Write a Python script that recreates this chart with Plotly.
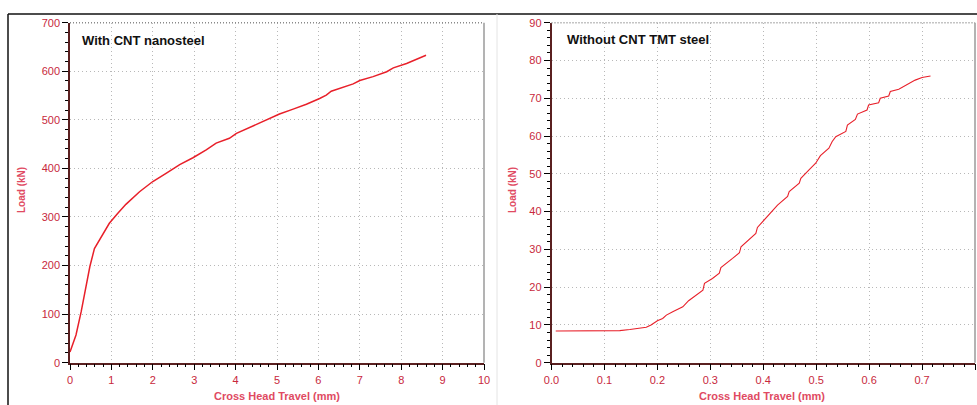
import plotly.graph_objects as go

# Left panel: With CNT nanosteel
cnt_travel = [0.0, 0.145, 0.27, 0.39, 0.48, 0.59, 0.75, 0.95, 1.15, 1.35, 1.68, 2.0, 2.32, 2.65,
              2.97, 3.29, 3.53, 3.85, 4.02, 4.42, 4.74, 5.06, 5.39, 5.71, 6.03, 6.19, 6.31, 6.6,
              6.84, 7.0, 7.32, 7.65, 7.81, 8.13, 8.37, 8.6]
cnt_load = [22, 57, 105, 156, 198, 235, 259, 287, 307, 326, 352, 373, 390, 408,
            422, 438, 452, 462, 472, 487, 500, 512, 522, 532, 544, 551, 559, 567,
            574, 581, 589, 599, 607, 616, 625, 633]

# Right panel: Without CNT TMT steel
tmt_travel = [0.008, 0.104, 0.129, 0.148, 0.16, 0.179, 0.188, 0.2, 0.21, 0.217, 0.229, 0.248,
              0.259, 0.273, 0.286, 0.289, 0.304, 0.317, 0.32, 0.342, 0.355, 0.358, 0.386,
              0.389, 0.417, 0.427, 0.446, 0.449, 0.468, 0.471, 0.486, 0.499, 0.508, 0.524,
              0.53, 0.537, 0.556, 0.559, 0.574, 0.578, 0.596, 0.599, 0.618, 0.621, 0.637,
              0.64, 0.656, 0.669, 0.687, 0.7, 0.716]
tmt_load = [8.4, 8.4, 8.5, 8.8, 9.1, 9.4, 10.0, 11.1, 11.7, 12.6, 13.5, 14.8,
            16.4, 17.9, 19.2, 21.0, 22.3, 23.7, 25.2, 27.6, 29.1, 30.7, 34.2,
            35.8, 40.0, 41.7, 44.0, 45.3, 47.5, 48.8, 51.0, 52.8, 54.8, 56.8,
            58.5, 59.8, 61.2, 62.9, 64.4, 65.8, 66.9, 68.2, 68.8, 70.0, 70.6,
            71.8, 72.4, 73.5, 74.8, 75.5, 75.9]

left_x_ticks = list(range(0, 11))
left_y_ticks = list(range(0, 701, 100))
right_x_ticks = [0.0, 0.1, 0.2, 0.3, 0.4, 0.5, 0.6, 0.7, 0.8]
right_y_ticks = list(range(0, 91, 10))

LABEL_RED = "#c8283c"
TITLE_RED = "#e04a62"
CURVE = "#e8202a"
W, H = 977, 405

fig = go.Figure()
fig.add_trace(go.Scatter(x=cnt_travel, y=cnt_load, mode="lines",
                         line=dict(color=CURVE, width=1.5), xaxis="x", yaxis="y",
                         showlegend=False))
fig.add_trace(go.Scatter(x=tmt_travel, y=tmt_load, mode="lines",
                         line=dict(color=CURVE, width=1.1), xaxis="x2", yaxis="y2",
                         showlegend=False))

ydom = [1 - 362.7 / H, 1 - 22.7 / H]
xdom1 = [70 / W, 484 / W]
xdom2 = [551.5 / W, 975 / W]

common = dict(showline=True, linecolor="#5a2020", linewidth=1.5, ticks="outside",
              tickcolor="#000", ticklen=6, tickwidth=1,
              tickfont=dict(family="Liberation Sans, Arial", size=11, color=LABEL_RED),
              showgrid=True, gridcolor="#b8b8b8", griddash="1px,3px", gridwidth=1,
              zeroline=False, mirror=False, automargin=False)

fig.update_layout(
    width=W, height=H, margin=dict(l=0, r=0, t=0, b=0),
    paper_bgcolor="white", plot_bgcolor="white", template="none",
    xaxis=dict(domain=xdom1, range=[0, 10], tickvals=left_x_ticks, anchor="y",
               minor=dict(dtick=0.2, ticks="outside", ticklen=3, tickcolor="#000"),
               **common),
    yaxis=dict(domain=ydom, range=[0, 700], tickvals=left_y_ticks, anchor="x",
               minor=dict(dtick=20, ticks="outside", ticklen=3, tickcolor="#000"),
               **common),
    xaxis2=dict(domain=xdom2, range=[0, 0.8], tickvals=right_x_ticks, tickformat=".1f",
                anchor="y2",
                minor=dict(dtick=0.02, ticks="outside", ticklen=3, tickcolor="#000"),
                **common),
    yaxis2=dict(domain=ydom, range=[0, 90], tickvals=right_y_ticks, anchor="x2",
                minor=dict(dtick=2, ticks="outside", ticklen=3, tickcolor="#000"),
                **common),
)

shapes = []
# plot-area frames (grey) on top/right
for xd in (xdom1, xdom2):
    shapes.append(dict(type="line", xref="paper", yref="paper", x0=xd[0], x1=xd[1],
                       y0=ydom[1], y1=ydom[1], line=dict(color="#8a8a8a", width=1.5, dash="1px,2px")))
    shapes.append(dict(type="line", xref="paper", yref="paper", x0=xd[1], x1=xd[1],
                       y0=ydom[0], y1=ydom[1], line=dict(color="#9a9a9a", width=1.5)))
# outer black frame
shapes.append(dict(type="line", xref="paper", yref="paper", x0=8 / W, x1=1,
                   y0=1 - 14 / H, y1=1 - 14 / H, line=dict(color="#111", width=1.5)))
shapes.append(dict(type="line", xref="paper", yref="paper", x0=8 / W, x1=8 / W,
                   y0=0, y1=1 - 14 / H, line=dict(color="#111", width=1.5)))
shapes.append(dict(type="line", xref="paper", yref="paper", x0=497 / W, x1=497 / W,
                   y0=0, y1=1 - 14 / H, line=dict(color="#e4e4e4", width=1)))
fig.update_layout(shapes=shapes)

ann_font = dict(family="Liberation Sans, Arial", size=13, color="#111")
title_font = dict(family="Liberation Sans, Arial", size=11, color=TITLE_RED)
fig.update_layout(annotations=[
    dict(text="<b>With CNT nanosteel</b>", xref="paper", yref="paper", x=80 / W, y=1 - 41 / H,
         xanchor="left", yanchor="middle", showarrow=False, font=ann_font),
    dict(text="<b>Without CNT TMT steel</b>", xref="paper", yref="paper", x=565 / W, y=1 - 39 / H,
         xanchor="left", yanchor="middle", showarrow=False, font=ann_font),
    dict(text="<b>Cross Head Travel (mm)</b>", xref="paper", yref="paper", x=277 / W, y=1 - 396 / H,
         xanchor="center", yanchor="middle", showarrow=False, font=title_font),
    dict(text="<b>Cross Head Travel (mm)</b>", xref="paper", yref="paper", x=762 / W, y=1 - 396 / H,
         xanchor="center", yanchor="middle", showarrow=False, font=title_font),
    dict(text="<b>Load (kN)</b>", xref="paper", yref="paper", x=21 / W, y=1 - 190 / H,
         xanchor="center", yanchor="middle", showarrow=False, textangle=-90,
         font=dict(family="Liberation Sans, Arial", size=10, color=TITLE_RED)),
    dict(text="<b>Load (kN)</b>", xref="paper", yref="paper", x=512 / W, y=1 - 190 / H,
         xanchor="center", yanchor="middle", showarrow=False, textangle=-90,
         font=dict(family="Liberation Sans, Arial", size=10, color=TITLE_RED)),
])

fig.write_html("out.html")
